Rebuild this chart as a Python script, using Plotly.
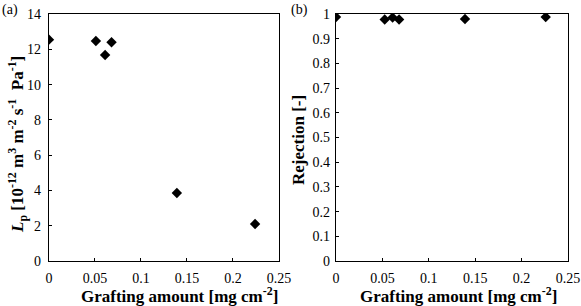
import plotly.graph_objects as go

graft_a = [0.0, 0.051, 0.061, 0.068, 0.139, 0.224]
lp_vals = [12.55, 12.47, 11.68, 12.4, 3.86, 2.1]
graft_b = [0.0, 0.0525, 0.061, 0.068, 0.139, 0.226]
rejection = [0.988, 0.978, 0.986, 0.978, 0.980, 0.988]

xticks = [0, 0.05, 0.1, 0.15, 0.2, 0.25]
xticklabels = ["0", "0.05", "0.1", "0.15", "0.2", "0.25"]
yticks_a = [0, 2, 4, 6, 8, 10, 12, 14]
yticks_b = [0, 0.1, 0.2, 0.3, 0.4, 0.5, 0.6, 0.7, 0.8, 0.9, 1]
yticklabels_b = ["0", "0.1", "0.2", "0.3", "0.4", "0.5", "0.6", "0.7", "0.8", "0.9", "1"]

x_title = "<b>Grafting amount [mg cm<sup>-2</sup>]</b>"
y_title_a = "<b><i>L</i><sub>p</sub> [10<sup>-12</sup> m<sup>3</sup> m<sup>-2</sup> s<sup>-1</sup>  Pa<sup>-1</sup>]</b>"
y_title_b = "<b>Rejection [-]</b>"

FONT = "Liberation Serif"
fig = go.Figure()
mk = dict(symbol="diamond", size=8, color="black")
fig.add_trace(go.Scatter(x=graft_a, y=lp_vals, mode="markers", marker=mk, xaxis="x", yaxis="y", showlegend=False))
fig.add_trace(go.Scatter(x=graft_b, y=rejection, mode="markers", marker=mk, xaxis="x2", yaxis="y2", showlegend=False))

ax_common = dict(showline=True, linecolor="black", linewidth=1.3, mirror=True, showgrid=False, zeroline=False,
                 automargin=False, ticks="inside", ticklen=3, tickcolor="black",
                 tickfont=dict(family=FONT, size=14, color="black"))

tfont = dict(family=FONT, size=17, color="black")
fig.update_layout(
    width=581, height=306, margin=dict(l=0, r=0, t=0, b=0),
    paper_bgcolor="white", plot_bgcolor="white",
    font=dict(family=FONT, color="black"),
    xaxis=dict(domain=[0.0843, 0.4802], range=[0, 0.25], tickvals=xticks, ticktext=xticklabels,
               anchor="y", ticklabelstandoff=4, **ax_common),
    yaxis=dict(domain=[0.147, 0.954], range=[0, 14], tickvals=yticks_a, anchor="x", ticklabelstandoff=4, **ax_common),
    xaxis2=dict(domain=[0.5783, 0.9776], range=[0, 0.25], tickvals=xticks, ticktext=xticklabels,
                anchor="y2", ticklabelstandoff=4, **ax_common),
    yaxis2=dict(domain=[0.147, 0.954], range=[0, 1], tickvals=yticks_b, ticktext=yticklabels_b, anchor="x2",
                ticklabelstandoff=2, **ax_common),
    annotations=[
        dict(text="(a)", x=0.0, y=1.0, xref="paper", yref="paper", xanchor="left", yanchor="top", showarrow=False,
             font=dict(family=FONT, size=14, color="black")),
        dict(text="(b)", x=0.497, y=1.0, xref="paper", yref="paper", xanchor="left", yanchor="top", showarrow=False,
             font=dict(family=FONT, size=14, color="black")),
        dict(text=x_title, x=179 / 581, y=1 - 295 / 306, xref="paper", yref="paper", xanchor="center", yanchor="middle",
             showarrow=False, font=tfont),
        dict(text=x_title, x=458 / 581, y=1 - 295 / 306, xref="paper", yref="paper", xanchor="center", yanchor="middle",
             showarrow=False, font=tfont),
        dict(text=y_title_a, x=17 / 581, y=1 - 145 / 306, xref="paper", yref="paper", xanchor="center", yanchor="middle",
             textangle=-90, showarrow=False, font=tfont),
        dict(text=y_title_b, x=299 / 581, y=1 - 140 / 306, xref="paper", yref="paper", xanchor="center", yanchor="middle",
             textangle=-90, showarrow=False, font=tfont),
    ],
)
fig.write_html("out.html", config={"displayModeBar": False}, post_script="document.body.style.margin='0';")
